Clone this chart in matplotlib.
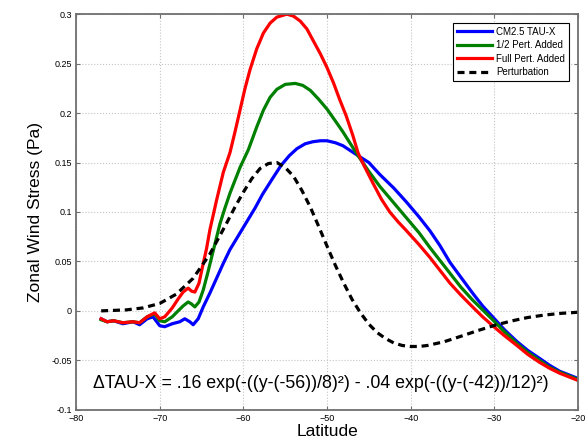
import numpy as np
import matplotlib
matplotlib.use("Agg")
import matplotlib.pyplot as plt
from matplotlib.ticker import FuncFormatter

plt.rcParams['font.family'] = ['Liberation Sans', 'DejaVu Sans']

# CM2.5 TAU-X
lat_blue = [-77.0, -76.3, -75.5, -74.4, -73.2, -72.4, -71.5, -70.8, -70.0, -69.4,
            -68.5, -67.6, -67.0, -66.4, -66.0, -65.4, -64.8, -64.0, -63.2, -62.4,
            -61.6, -60.6, -59.6, -58.6, -57.7, -56.5, -55.5, -54.5, -53.6, -52.6,
            -51.7, -50.8, -50.0, -49.0, -48.1, -47.2, -46.3, -45.0, -43.7, -42.0,
            -40.5, -39.0, -37.7, -36.5, -35.3, -34.0, -32.6, -31.4, -30.2, -28.8,
            -27.3, -26.0, -24.6, -23.4, -22.2, -21.0, -20.1]
tau_blue = [-0.008, -0.011, -0.010, -0.013, -0.011, -0.014, -0.008, -0.006, -0.015, -0.016,
            -0.013, -0.011, -0.008, -0.011, -0.014, -0.008, 0.004, 0.018, 0.033, 0.048,
            0.062, 0.076, 0.090, 0.104, 0.118, 0.134, 0.147, 0.157, 0.164, 0.169,
            0.171, 0.172, 0.172, 0.170, 0.167, 0.162, 0.157, 0.150, 0.138, 0.124,
            0.110, 0.095, 0.081, 0.066, 0.049, 0.034, 0.018, 0.005, -0.006, -0.019,
            -0.031, -0.040, -0.048, -0.055, -0.061, -0.065, -0.068]

# 1/2 Pert. Added
lat_green = [-77.0, -76.3, -75.5, -74.4, -73.2, -72.4, -71.5, -70.6, -70.0, -69.4,
             -68.5, -67.8, -67.2, -66.6, -66.2, -65.8, -65.3, -64.8, -64.3, -63.8,
             -63.3, -62.8, -62.2, -61.6, -61.0, -60.4, -59.4, -58.4, -57.6, -56.8,
             -56.0, -55.0, -53.8, -52.9, -52.0, -51.0, -50.0, -49.0, -48.1, -47.2,
             -46.3, -45.0, -43.7, -42.0, -40.5, -39.0, -37.7, -36.5, -35.3, -34.0,
             -32.6, -31.4, -30.2, -28.8, -27.3, -26.0, -24.6, -23.4, -22.2, -21.0, -20.1]
tau_green = [-0.009, -0.011, -0.010, -0.012, -0.011, -0.012, -0.006, -0.003, -0.010, -0.011,
             -0.006, 0.000, 0.005, 0.009, 0.007, 0.004, 0.009, 0.021, 0.037, 0.054,
             0.071, 0.088, 0.104, 0.119, 0.132, 0.145, 0.163, 0.186, 0.203, 0.216,
             0.224, 0.229, 0.230, 0.228, 0.223, 0.214, 0.204, 0.192, 0.181, 0.169,
             0.157, 0.141, 0.126, 0.109, 0.094, 0.079, 0.064, 0.051, 0.038, 0.024,
             0.011, 0.001, -0.009, -0.021, -0.033, -0.042, -0.050, -0.057, -0.062, -0.066, -0.069]

# Full Pert. Added
lat_red = [-77.0, -76.3, -75.5, -74.4, -73.2, -72.4, -71.5, -70.6, -70.0, -69.4,
           -68.5, -67.8, -67.2, -66.6, -66.2, -65.8, -65.3, -64.9, -64.4, -64.0,
           -63.6, -63.2, -62.4, -61.6, -61.0, -60.4, -59.8, -59.2, -58.4, -57.6,
           -56.8, -56.0, -54.8, -54.0, -53.2, -52.4, -51.7, -50.8, -50.0, -49.2,
           -48.5, -47.7, -46.9, -46.3, -45.7, -44.5, -43.5, -42.5, -41.5, -40.5,
           -39.0, -37.7, -36.5, -35.3, -34.0, -32.6, -31.4, -30.2, -28.8, -27.3,
           -26.0, -24.6, -23.4, -22.2, -21.0, -20.1]
tau_red = [-0.008, -0.011, -0.010, -0.012, -0.011, -0.012, -0.006, -0.002, -0.008, -0.006,
           0.003, 0.012, 0.019, 0.023, 0.020, 0.019, 0.028, 0.044, 0.063, 0.082,
           0.097, 0.112, 0.140, 0.160, 0.181, 0.203, 0.225, 0.244, 0.265, 0.281,
           0.291, 0.297, 0.300, 0.298, 0.293, 0.285, 0.274, 0.260, 0.246, 0.230,
           0.214, 0.197, 0.177, 0.160, 0.149, 0.129, 0.113, 0.100, 0.090, 0.081,
           0.067, 0.054, 0.041, 0.028, 0.016, 0.004, -0.006, -0.015, -0.025, -0.035,
           -0.044, -0.052, -0.058, -0.063, -0.067, -0.070]

# Perturbation
lat_pert = [-77, -74, -72, -70, -68, -66, -64, -62, -61, -60, -59, -58, -57, -56,
            -55, -54, -53, -52, -51, -50, -49, -48, -47, -46, -45, -44, -43, -42,
            -41, -40, -39, -38, -36, -34, -32, -30, -28, -26, -24, -22, -20]
tau_pert = [0.000, 0.001, 0.003, 0.0075, 0.017, 0.033, 0.0575, 0.0887, 0.105, 0.120,
            0.1336, 0.144, 0.149, 0.150, 0.145, 0.136, 0.1217, 0.105, 0.0855, 0.0655,
            0.046, 0.028, 0.0115, -0.002, -0.0134, -0.022, -0.028, -0.0325, -0.035, -0.036,
            -0.036, -0.035, -0.0312, -0.0257, -0.020, -0.0147, -0.0103, -0.0067, -0.0042,
            -0.0025, -0.0014]

xticks = [-80, -70, -60, -50, -40, -30, -20]
yticks = [-0.1, -0.05, 0, 0.05, 0.1, 0.15, 0.2, 0.25, 0.3]

fig = plt.figure(figsize=(5.85, 4.43), dpi=100)
ax = fig.add_axes([0.130, 0.075, 0.858, 0.893])

ax.plot(lat_blue, tau_blue, color='#0000ff', lw=2.3, label='CM2.5 TAU-X')
ax.plot(lat_green, tau_green, color='#008000', lw=2.3, label='1/2 Pert. Added')
ax.plot(lat_red, tau_red, color='#ff0000', lw=2.3, label='Full Pert. Added')
ax.plot(lat_pert, tau_pert, color='black', lw=2.3, ls=(0, (2.2, 1.5)), label='Perturbation')

ax.set_xlim(-80, -20)
ax.set_ylim(-0.1, 0.3)
ax.set_xticks(xticks)
ax.set_yticks(yticks)
ax.yaxis.set_major_formatter(FuncFormatter(lambda v, p: '%g' % round(v, 3)))
ax.tick_params(direction='in', top=True, right=True, labelsize=6.5, length=3,
               color='#707070', pad=3)
for s in ax.spines.values():
    s.set_color('#707070')
    s.set_linewidth(1.3)
ax.grid(True, ls=':', color='#c4c4c4', lw=0.8)

ax.set_xlabel('Latitude', fontsize=12.5, labelpad=1)
ax.set_ylabel('Zonal Wind Stress (Pa)', fontsize=12.5, labelpad=6)

ax.text(-50.8, -0.073,
        'ΔTAU-X = .16 exp(-((y-(-56))/8)²) - .04 exp(-((y-(-42))/12)²)',
        fontsize=12.8, ha='center', va='center')

leg = ax.legend(loc='upper right', fontsize=7, frameon=True, fancybox=False,
                edgecolor='black', framealpha=1, handlelength=3.6,
                borderaxespad=0.9, labelspacing=0.35, handletextpad=0.5)
leg.get_frame().set_linewidth(0.8)

fig.savefig('out.png', dpi=100)
